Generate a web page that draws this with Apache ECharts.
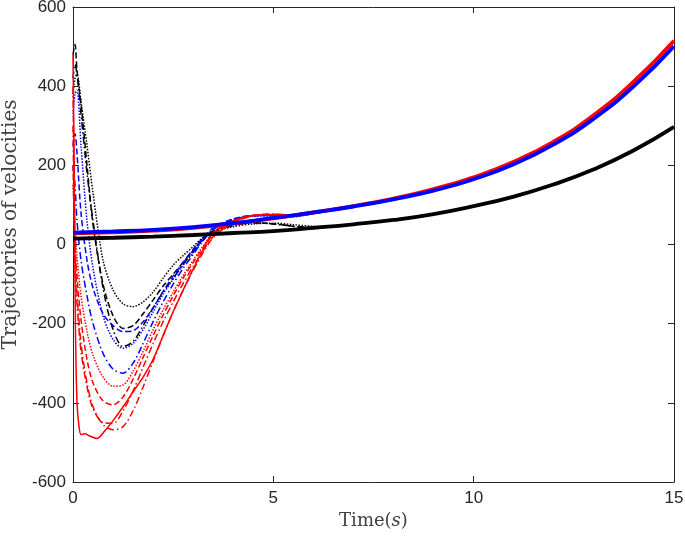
<!DOCTYPE html>
<html>
<head>
<meta charset="utf-8">
<script src="https://cdn.jsdelivr.net/npm/echarts@6/dist/echarts.min.js"></script>
<style>html,body{margin:0;padding:0;background:#fff}#c{width:685px;height:536px}</style>
</head>
<body>
<div id="c"></div>
<script>
// Tick labels
const xTicks = [0, 5, 10, 15];
const yTicks = [-600, -400, -200, 0, 200, 400, 600];

// Thick reference trajectories (t = 0..15)
const tThick = [0,1,2,3,4,5,6,7,8,9,10,11,12,13,14,15];
const redThick   = [28,31,35,42,53,66,81,97,116,140,170,209,260,327,412,515];
const blueThick  = [30,33,37,44,54,67,81,96,114,136,165,203,253,318,400,501];
const blackThick = [15,17,20,24,29,34,42,51,62,77,97,121,152,190,238,297];

// Transient trajectories (shared time grid)
const tT = [0,0.05,0.1,0.2,0.35,0.5,0.75,1.0,1.25,1.5,1.75,2.0,2.25,2.5,2.75,3.0,3.25,3.5,4.0,4.5,5.0,5.5,6.0,6.5];
const blackDashed  = [480,505,440,355,200,50,-100,-180,-212,-205,-175,-140,-105,-75,-45,-15,15,35,50,55,52,46,43,44];
const blackDotted  = [380,420,430,360,250,130,-40,-115,-150,-157,-145,-120,-85,-52,-28,-5,18,32,45,52,54,50,46,45];
const blackDashDot = [420,455,430,330,180,60,-110,-215,-258,-245,-205,-160,-120,-85,-50,-18,12,32,48,55,52,46,43,44];
const blueDotted   = [330,380,390,250,60,-60,-180,-240,-262,-250,-215,-170,-125,-88,-52,-20,12,38,62,72,72,70,78,88];
const blueDashed   = [250,280,230,80,-40,-110,-175,-205,-220,-218,-195,-160,-118,-80,-45,-12,18,42,65,73,73,72,78,88];
const blueDashDot  = [200,150,60,-40,-130,-200,-275,-315,-325,-300,-250,-195,-145,-100,-60,-25,10,38,63,72,74,72,78,88];
const redDotted    = [150,40,-30,-130,-220,-280,-335,-358,-355,-320,-270,-215,-165,-120,-78,-40,-3,30,60,74,75,73,78,88];
const redDashed    = [200,0,-80,-190,-290,-350,-395,-405,-385,-340,-285,-230,-178,-130,-85,-45,-8,25,58,74,76,73,78,88];
const redDashDot   = [300,-50,-150,-270,-360,-415,-450,-452,-420,-370,-310,-250,-195,-145,-98,-55,-15,20,55,73,77,74,78,88];
const redDashDot2  = [400,0,-120,-250,-350,-410,-455,-468,-460,-420,-360,-295,-230,-170,-115,-65,-20,18,55,72,76,74,78,88];

// Red solid transient (own time grid)
const tRedSolid = [0,0.03,0.06,0.1,0.15,0.2,0.3,0.4,0.6,0.8,1.0,1.25,1.5,1.75,2.0,2.25,2.5,2.75,3.0,3.25,3.5,4.0,4.5,5.0,5.5,6.0,6.5];
const redSolid  = [480,200,-200,-400,-460,-480,-478,-483,-490,-470,-445,-410,-372,-335,-290,-230,-170,-115,-62,-12,30,58,73,75,73,78,88];

function pts(t, v) { return t.map((x, i) => [x, v[i]]); }

const dashDot = [7, 3, 1.5, 3];
function thin(name, color, type, t, v) {
  return {
    name, type: 'line', data: pts(t, v), showSymbol: false, smooth: 0.3,
    lineStyle: { color, width: 1.5, type }, z: 2
  };
}
function thick(name, color, v) {
  return {
    name, type: 'line', data: pts(tThick, v), showSymbol: false, smooth: true,
    lineStyle: { color, width: 3.8 }, z: 5
  };
}

const axisCol = '#262626';
const nameFont = 'DejaVu Serif';
const chart = echarts.init(document.getElementById('c'), null, { renderer: 'canvas' });
chart.setOption({
  animation: false,
  backgroundColor: '#fff',
  grid: { left: 73, right: 11, top: 7, bottom: 54, containLabel: false, outerBoundsMode: 'none' },
  xAxis: [
    {
      type: 'value', min: 0, max: 15, interval: 5,
      name: '{n|Time(}{i|s}{n|)}', nameLocation: 'middle', nameGap: 30,
      nameTextStyle: { rich: {
        n: { fontFamily: nameFont, fontSize: 18, color: '#404040' },
        i: { fontFamily: nameFont, fontStyle: 'italic', fontSize: 18, color: '#404040' }
      } },
      axisLine: { show: true, onZero: false, lineStyle: { color: axisCol, width: 1 } },
      axisTick: { show: true, inside: true, length: 6, lineStyle: { color: axisCol } },
      axisLabel: { fontFamily: 'Liberation Sans', fontSize: 17, color: axisCol, margin: 8,
        formatter: v => xTicks.includes(v) ? String(v) : '' },
      splitLine: { show: false }
    },
    {
      type: 'value', min: 0, max: 15, interval: 5, position: 'top',
      axisLine: { show: true, onZero: false, lineStyle: { color: axisCol, width: 1 } },
      axisTick: { show: true, inside: true, length: 6, lineStyle: { color: axisCol } },
      axisLabel: { show: false }, splitLine: { show: false }
    }
  ],
  yAxis: [
    {
      type: 'value', min: -600, max: 600, interval: 200,
      name: 'Trajectories of velocities', nameLocation: 'middle', nameGap: 50,
      nameTextStyle: { fontFamily: nameFont, fontSize: 20, color: '#404040', padding: [0, 0, 0, 40] },
      axisLine: { show: true, onZero: false, lineStyle: { color: axisCol, width: 1 } },
      axisTick: { show: true, inside: true, length: 6, lineStyle: { color: axisCol } },
      axisLabel: { fontFamily: 'Liberation Sans', fontSize: 17, color: axisCol, margin: 7,
        formatter: v => yTicks.includes(v) ? String(v) : '' },
      splitLine: { show: false }
    },
    {
      type: 'value', min: -600, max: 600, interval: 200, position: 'right',
      axisLine: { show: true, onZero: false, lineStyle: { color: axisCol, width: 1 } },
      axisTick: { show: true, inside: true, length: 6, lineStyle: { color: axisCol } },
      axisLabel: { show: false }, splitLine: { show: false }
    }
  ],
  series: [
    thin('black dotted', '#000', 'dotted', tT, blackDotted),
    thin('black dashed', '#000', 'dashed', tT, blackDashed),
    thin('black dash-dot', '#000', dashDot, tT, blackDashDot),
    thin('blue dashed', '#0000ff', 'dashed', tT, blueDashed),
    thin('blue dotted', '#0000ff', 'dotted', tT, blueDotted),
    thin('blue dash-dot', '#0000ff', dashDot, tT, blueDashDot),
    thin('red dotted', '#ff0000', 'dotted', tT, redDotted),
    thin('red dashed', '#ff0000', 'dashed', tT, redDashed),
    thin('red dash-dot', '#ff0000', dashDot, tT, redDashDot),
    thin('red dash-dot 2', '#ff0000', dashDot, tT, redDashDot2),
    thin('red solid', '#ff0000', 'solid', tRedSolid, redSolid),
    thick('black thick', '#000000', blackThick),
    thick('red thick', '#ff0000', redThick),
    thick('blue thick', '#0000ff', blueThick)
  ]
});
</script>
</body>
</html>
